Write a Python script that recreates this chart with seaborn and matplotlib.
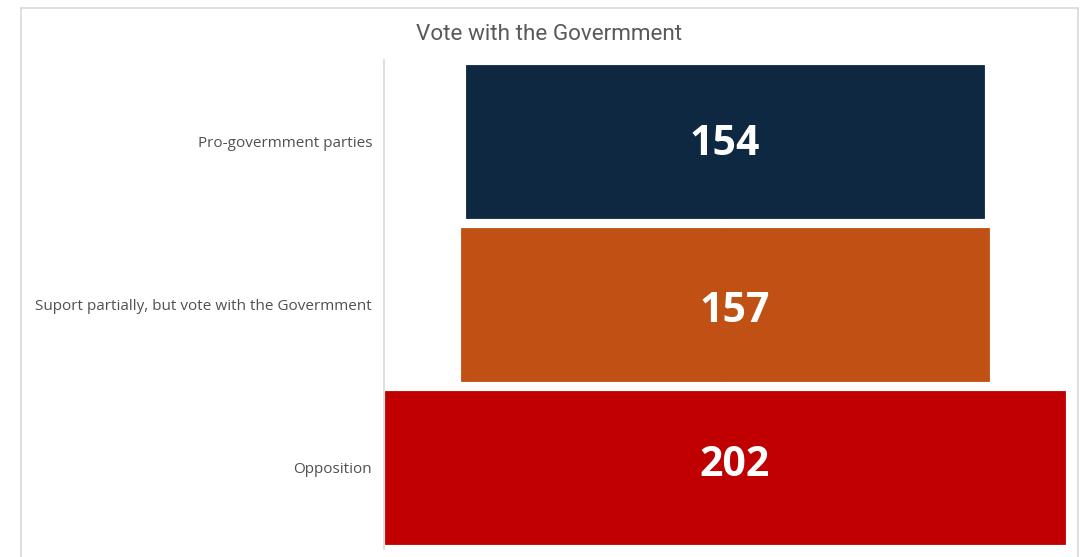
import matplotlib
matplotlib.use("Agg")
import matplotlib.pyplot as plt
import seaborn as sns
import pandas as pd
from matplotlib.lines import Line2D

categories = ["Pro-govermment parties",
              "Suport partially, but vote with the Govermment",
              "Opposition"]
values = [154, 157, 202]
colors = ["#0F2841", "#C05014", "#C00000"]
title = "Vote with the Govermment"

sns.set_theme(style="white")
plt.rcParams["font.family"] = ["Open Sans", "DejaVu Sans"]

df = pd.DataFrame({"cat": categories, "val": values})
df["half"] = df["val"] / 2.0
df["neg"] = -df["val"] / 2.0

fig = plt.figure(figsize=(10.87, 5.57), dpi=100)
ax = fig.add_axes([384 / 1087, 1 - 549 / 557, (1066 - 384) / 1087, (549 - 60) / 557])

pal = dict(zip(categories, colors))
for col in ["half", "neg"]:
    sns.barplot(data=df, x=col, y="cat", hue="cat", palette=pal, legend=False,
                orient="h", width=0.94, ax=ax, linewidth=0.6, edgecolor=None,
                saturation=1)
for p, c in zip(ax.patches, colors * 2):
    p.set_edgecolor(c)

max_half = max(values) / 2.0
ax.set_xlim(-max_half - 0.3, max_half + 0.3)
ax.set_ylim(2.5, -0.5)
ax.set_xlabel("")
ax.set_ylabel("")
ax.set_xticks([])
for s in ["top", "right", "bottom"]:
    ax.spines[s].set_visible(False)
ax.spines["left"].set_color("#d9d9d9")
ax.spines["left"].set_linewidth(1.2)
ax.tick_params(axis="y", length=0, pad=8.5, labelsize=11, labelcolor="#505050")
for lab in ax.get_yticklabels():
    lab.set_fontfamily(["Open Sans", "DejaVu Sans"])
    lab.set_va("center_baseline")

# Excel-style label placement offsets (points)
label_offsets = [(0, -2.3), (7.2, -4.9), (7.2, 1.3)]
for i, v in enumerate(values):
    ax.annotate(str(v), xy=(0, i), xytext=label_offsets[i], textcoords="offset points",
                ha="center", va="center", color="white",
                fontsize=29.5, fontweight="bold", family=["Open Sans", "DejaVu Sans"])

fig.text(549 / 1087, 1 - 35 / 557, title, ha="center", va="center",
         fontsize=16.2, color="#595959", family=["Roboto", "DejaVu Sans"])

# outer chart border (left, top, right)
bc = "#d9d9d9"
x0, x1, y0 = 20.5 / 1087, 1078 / 1087, 1 - 7.5 / 557
fig.add_artist(Line2D([x0, x0], [0, y0], transform=fig.transFigure, color=bc, lw=1.2))
fig.add_artist(Line2D([x0, x1], [y0, y0], transform=fig.transFigure, color=bc, lw=1.2))
fig.add_artist(Line2D([x1, x1], [0, y0], transform=fig.transFigure, color=bc, lw=1.2))

fig.savefig("out.png", dpi=100)
